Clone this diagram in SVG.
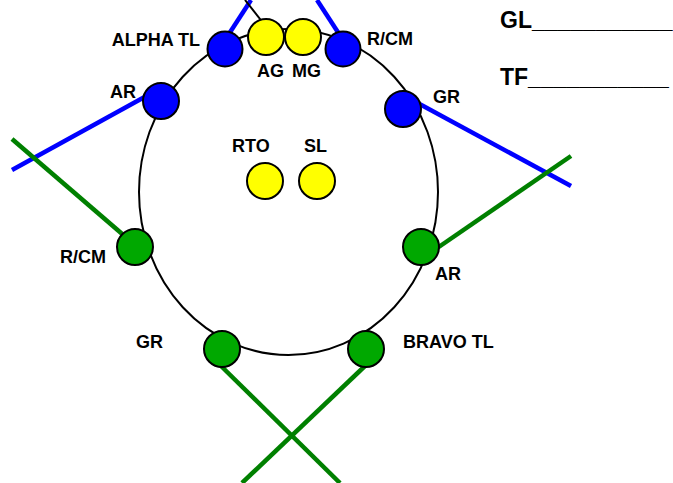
<svg xmlns="http://www.w3.org/2000/svg" width="673" height="483" viewBox="0 0 673 483">
<style>
text{font-family:"Liberation Sans",Arial,sans-serif;font-weight:bold;font-size:18px;fill:#000}
.big{font-size:23px}
.n{stroke:#000;stroke-width:2}
.b{fill:#0000FF}.g{fill:#00A800}.y{fill:#FFFF00}
.lb{stroke:#0000FF;stroke-width:4.5;fill:none}
.lg{stroke:#008000;stroke-width:4.5;fill:none}
</style>
<rect width="673" height="483" fill="#fff"/>
<ellipse cx="288.5" cy="192" rx="149.5" ry="163" fill="none" stroke="#000" stroke-width="2"/>
<g id="connectors">
<line class="lb" x1="225" y1="40" x2="251" y2="0"/>
<line x1="245" y1="0" x2="264" y2="24" stroke="#000" stroke-width="2"/>
<line class="lb" x1="343" y1="40" x2="317" y2="0"/>
<line class="lb" x1="150" y1="94" x2="12" y2="170"/>
<line class="lg" x1="128" y1="239" x2="12" y2="139"/>
<line class="lb" x1="414" y1="101" x2="571" y2="186"/>
<line class="lg" x1="430" y1="253" x2="571" y2="156"/>
<line class="lg" x1="220" y1="365" x2="340" y2="483"/>
<line class="lg" x1="366" y1="365" x2="242" y2="483"/>
</g>
<g id="alpha-tl"><circle class="n b" cx="225" cy="49" r="17.5"/><text x="200" y="46" text-anchor="end">ALPHA TL</text></g>
<g id="ag"><circle class="n y" cx="266" cy="37" r="18"/><text x="257" y="77">AG</text></g>
<g id="mg"><circle class="n y" cx="303" cy="37" r="18"/><text x="292" y="77">MG</text></g>
<g id="rcm-top"><circle class="n b" cx="343" cy="49" r="17.5"/><text x="367" y="45">R/CM</text></g>
<g id="ar-left"><circle class="n b" cx="161" cy="101" r="18"/><text x="110" y="98">AR</text></g>
<g id="gr-right"><circle class="n b" cx="403" cy="109" r="18"/><text x="433" y="103">GR</text></g>
<g id="rto"><circle class="n y" cx="265" cy="181" r="18"/><text x="232" y="152">RTO</text></g>
<g id="sl"><circle class="n y" cx="317" cy="181" r="18"/><text x="304" y="152">SL</text></g>
<g id="rcm-left"><circle class="n g" cx="135" cy="247" r="18"/><text x="60" y="263">R/CM</text></g>
<g id="ar-right"><circle class="n g" cx="421" cy="247" r="18"/><text x="435" y="280">AR</text></g>
<g id="gr-bottom"><circle class="n g" cx="222" cy="349" r="18"/><text x="136" y="348">GR</text></g>
<g id="bravo-tl"><circle class="n g" cx="366" cy="349" r="18"/><text x="403" y="348">BRAVO TL</text></g>
<g id="gl"><text class="big" x="500" y="28">GL___________</text></g>
<g id="tf"><text class="big" x="500" y="85">TF___________</text></g>
</svg>
